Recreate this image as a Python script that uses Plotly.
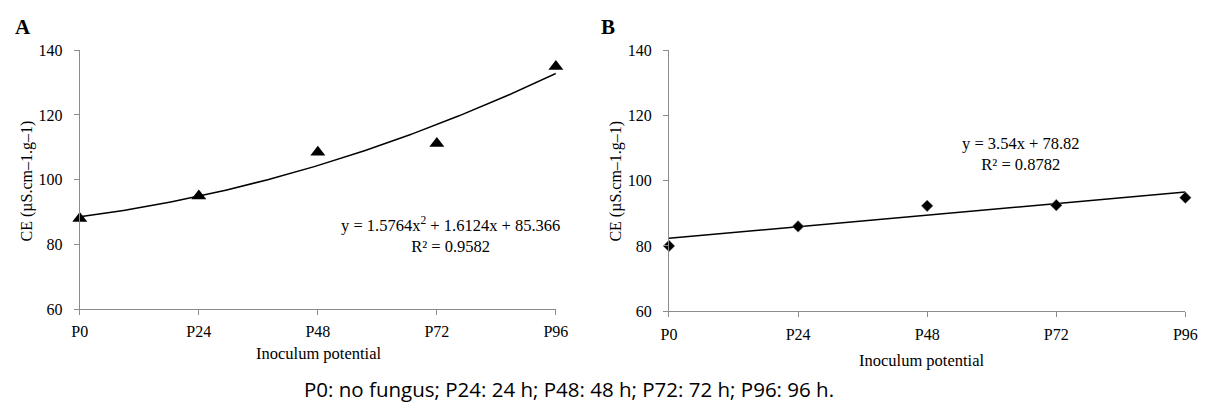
import numpy as np
import plotly.graph_objects as go

categories = ["P0", "P24", "P48", "P72", "P96"]
ce_a = [88.0, 95.0, 108.5, 111.2, 135.0]
ce_b = [80.0, 86.0, 92.3, 92.5, 94.8]
coef_a = [1.5764, 1.6124, 85.366]   # quadratic trend (x = 1..5)
coef_b = [3.54, 78.82]              # linear trend (x = 1..5)
eq_a = "y = 1.5764x<sup>2</sup> + 1.6124x + 85.366<br>R² = 0.9582"
eq_b = "y = 3.54x + 78.82<br>R² = 0.8782"
y_ticks = [60, 80, 100, 120, 140]

W, H = 1220, 420
SERIF = "Liberation Serif"
FS = 16

xi = np.arange(len(categories))
xs = np.linspace(0, len(categories) - 1, 200)
trend_a = np.polyval(coef_a, xs + 1)
trend_b = np.polyval(coef_b, xs + 1)

fig = go.Figure()
fig.add_trace(go.Scatter(x=xs, y=trend_a, mode="lines", line=dict(color="black", width=1.5),
                         xaxis="x", yaxis="y", hoverinfo="skip", cliponaxis=False))
fig.add_trace(go.Scatter(x=xi, y=ce_a, mode="markers",
                         marker=dict(symbol="triangle-up", size=13, color="black"),
                         xaxis="x", yaxis="y", cliponaxis=False))
fig.add_trace(go.Scatter(x=xs, y=trend_b, mode="lines", line=dict(color="black", width=1.5),
                         xaxis="x2", yaxis="y2", hoverinfo="skip", cliponaxis=False))
fig.add_trace(go.Scatter(x=xi, y=ce_b, mode="markers",
                         marker=dict(symbol="diamond", size=9, color="black",
                                     line=dict(color="#999", width=0.5)),
                         xaxis="x2", yaxis="y2", cliponaxis=False))

def px_x(p):
    return p / W

def px_y(p):
    return 1 - p / H

axis_common = dict(showgrid=False, zeroline=False, showline=True, linecolor="#8c8c8c", linewidth=1,
                   ticks="outside", ticklen=5, tickcolor="#8c8c8c",
                   tickfont=dict(family=SERIF, size=FS, color="black"))

fig.update_layout(
    width=W, height=H, margin=dict(l=0, r=0, t=0, b=0),
    paper_bgcolor="white", plot_bgcolor="white", showlegend=False,
    xaxis=dict(domain=[px_x(73), px_x(557)], range=[0, 4], tickvals=list(xi), ticktext=categories,
               anchor="y", ticklabelstandoff=3, **axis_common),
    yaxis=dict(domain=[px_y(314), px_y(44)], range=[60, 140], tickvals=y_ticks,
               anchor="x", ticklabelstandoff=8, **axis_common),
    xaxis2=dict(domain=[px_x(672), px_x(1197)], range=[0, 4], tickvals=list(xi), ticktext=categories,
                anchor="y2", ticklabelstandoff=4, **axis_common),
    yaxis2=dict(domain=[px_y(316), px_y(44)], range=[60, 140], tickvals=y_ticks,
                anchor="x2", ticklabelstandoff=8, **axis_common),
)

ann = []
def add_text(text, x, y, size=FS, family=SERIF, angle=0, bold=False, xanchor="center", yanchor="middle"):
    ann.append(dict(text=("<b>%s</b>" % text) if bold else text, x=px_x(x), y=px_y(y),
                    xref="paper", yref="paper", showarrow=False, textangle=angle,
                    xanchor=xanchor, yanchor=yanchor,
                    font=dict(family=family, size=size, color="black")))

add_text("A", 5, 20, size=21, bold=True, xanchor="left")
add_text("B", 601, 20, size=21, bold=True, xanchor="left")
add_text("CE (µS.cm–1.g–1)", 19, 180, size=16, angle=-90)
add_text("CE (µS.cm–1.g–1)", 618, 180, size=16, angle=-90)
add_text("Inoculum potential", 316, 360, size=16.5)
add_text("Inoculum potential", 929, 367, size=16.5)
add_text(eq_a, 450, 237, size=16.5)
add_text(eq_b, 1030, 152, size=16.5)
add_text("P0: no fungus; P24: 24 h; P48: 48 h; P72: 72 h; P96: 96 h.", 570, 397,
         size=20.5, family="Open Sans")
fig.update_layout(annotations=ann)

fig.write_html("out.html")
